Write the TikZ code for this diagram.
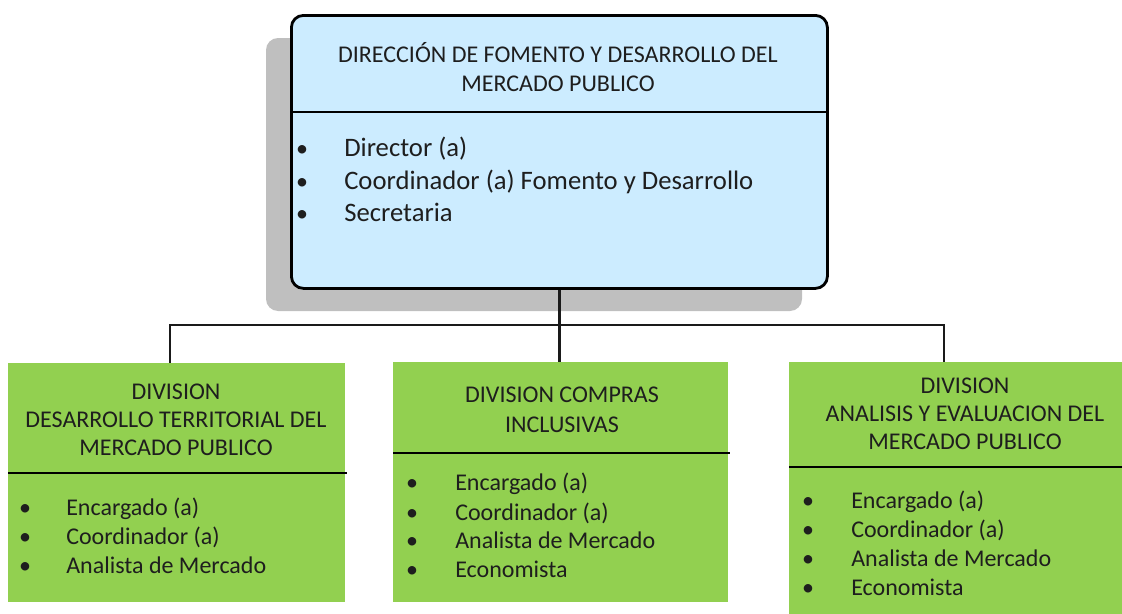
\documentclass[tikz,border=0pt]{standalone}
\usepackage{fontspec}
\setmainfont{Carlito}
\definecolor{bluec}{HTML}{CCECFF}
\definecolor{greenc}{HTML}{92D050}
\definecolor{shadowc}{HTML}{BFBFBF}
\definecolor{textc}{HTML}{1E1E1E}
\definecolor{connc}{HTML}{1A1A1A}
\tikzset{
 boxtext/.style={inner sep=0pt, font=\fontsize{18pt}{21.75pt}\selectfont, text=textc},
 bigtext/.style={inner sep=0pt, font=\fontsize{20pt}{24pt}\selectfont, text=textc},
 itemtext/.style={boxtext, anchor=base west},
 bigitem/.style={bigtext, anchor=base west},
 titletext/.style={boxtext, anchor=base},
 bul/.style={boxtext, anchor=base},
 greenbox/.style={fill=greenc, draw=none, anchor=north west, inner sep=0pt},
 conn/.style={line width=2pt, draw=connc},
 divider/.style={line width=1.1pt, draw=black}
}
\begin{document}
\begin{tikzpicture}[x=0.75pt,y=-0.75pt]
\useasboundingbox (0,0) rectangle (1122,614);
% shadow of main box
\fill[shadowc, rounded corners=9pt] (266,38) rectangle (802,311);
% main box
\node (main) [draw=black, line width=2.1pt, fill=bluec, rounded corners=9pt, anchor=north west, inner sep=0pt, minimum width=402pt, minimum height=204.75pt] at (290,14) {};
\draw[line width=1.3pt] (main.west |- 0,112) -- (main.east |- 0,112);
\node (t1) [titletext] at (558,62) {DIRECCIÓN DE FOMENTO Y DESARROLLO DEL};
\node (t2) [titletext] at (558,91) {MERCADO PUBLICO};
\node (mb1) [bul] at (302,156) {•};
\node (mb2) [bul] at (302,189) {•};
\node (mb3) [bul] at (302,221) {•};
\node (mi1) [bigitem] at (344,156) {Director (a)};
\node (mi2) [bigitem] at (344,189) {Coordinador (a) Fomento y Desarrollo};
\node (mi3) [bigitem] at (344,221) {Secretaria};

% division boxes
\node (d1) [greenbox, minimum width=252.75pt, minimum height=179.25pt] at (8,363) {};
\node (d2) [greenbox, minimum width=251.25pt, minimum height=180pt] at (393,362) {};
\node (d3) [greenbox, minimum width=249.75pt, minimum height=189pt] at (789,362) {};

% connectors
\coordinate (bl) at (170,325);
\coordinate (br) at (944,325);
\draw[conn] (main.south) -- (d2.north -| main.south);
\draw[conn] (d1.north -| bl) -- (bl) -- (br) -- (d3.north -| br);

% division 1
\draw[divider] (d1.west |- 0,473) -- ([xshift=1pt]d1.east |- 0,473);
\node (a1) [titletext] at (176,399) {DIVISION};
\node (a2) [titletext] at (176,427) {DESARROLLO TERRITORIAL DEL};
\node (a3) [titletext] at (176,455) {MERCADO PUBLICO};
\node (ab1) [bul] at (25,515) {•};
\node (ab2) [bul] at (25,544) {•};
\node (ab3) [bul] at (25,573) {•};
\node (ai1) [itemtext] at (66,515) {Encargado (a)};
\node (ai2) [itemtext] at (66,544) {Coordinador (a)};
\node (ai3) [itemtext] at (66,573) {Analista de Mercado};

% division 2
\draw[divider] (d2.west |- 0,453) -- ([xshift=1pt]d2.east |- 0,453);
\node (b1) [titletext] at (562,402) {DIVISION COMPRAS};
\node (b2) [titletext] at (562,432) {INCLUSIVAS};
\node (bb1) [bul] at (412,490) {•};
\node (bb2) [bul] at (412,520) {•};
\node (bb3) [bul] at (412,548) {•};
\node (bb4) [bul] at (412,577) {•};
\node (bi1) [itemtext] at (455,490) {Encargado (a)};
\node (bi2) [itemtext] at (455,520) {Coordinador (a)};
\node (bi3) [itemtext] at (455,548) {Analista de Mercado};
\node (bi4) [itemtext] at (455,577) {Economista};

% division 3
\draw[divider] (d3.west |- 0,467) -- (d3.east |- 0,467);
\node (c1) [titletext] at (965,393) {DIVISION};
\node (c2) [titletext] at (965,421) {ANALISIS Y EVALUACION DEL};
\node (c3) [titletext] at (965,449) {MERCADO PUBLICO};
\node (cb1) [bul] at (808,508) {•};
\node (cb2) [bul] at (808,537) {•};
\node (cb3) [bul] at (808,566) {•};
\node (cb4) [bul] at (808,595) {•};
\node (ci1) [itemtext] at (851,508) {Encargado (a)};
\node (ci2) [itemtext] at (851,537) {Coordinador (a)};
\node (ci3) [itemtext] at (851,566) {Analista de Mercado};
\node (ci4) [itemtext] at (851,595) {Economista};
\end{tikzpicture}
\end{document}
